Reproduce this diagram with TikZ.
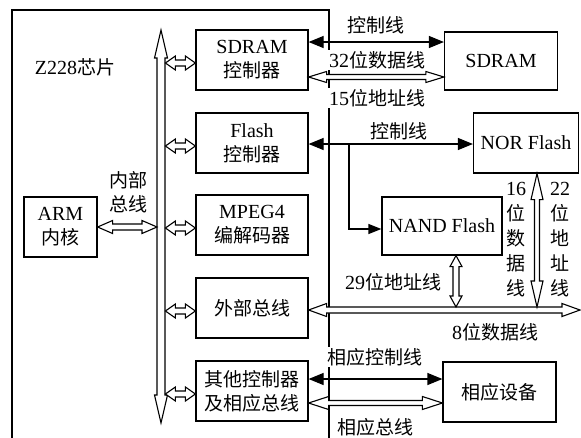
\documentclass[tikz,border=0pt]{standalone}
\usepackage{fontspec}
\setmainfont{Liberation Serif}
\newfontfamily\cjk{Noto Sans CJK SC}[Scale=0.95]
\usetikzlibrary{arrows.meta, calc}

% hollow double arrow: from, to, head length, head half width, shaft half width
\newcommand{\hollowarrow}[5]{%
  \coordinate (ha1) at ($(#1)!#3!(#2)$);
  \coordinate (ha2) at ($(#2)!#3!(#1)$);
  \draw[hollow] (#1) -- ($(ha1)!#4!90:(#1)$) -- ($(ha1)!#5!90:(#1)$)
    -- ($(ha2)!#5!-90:(#2)$) -- ($(ha2)!#4!-90:(#2)$) -- (#2)
    -- ($(ha2)!#4!90:(#2)$) -- ($(ha2)!#5!90:(#2)$)
    -- ($(ha1)!#5!-90:(#1)$) -- ($(ha1)!#4!-90:(#1)$) -- cycle;}

\begin{document}
\begin{tikzpicture}[
        x=1pt, y=-1pt,
        font=\fontsize{20}{24}\selectfont,
        box/.style   ={draw, line width=1.2pt, minimum width=112pt, minimum height=60pt,
                       align=center, inner sep=0pt},
        hollow/.style={draw, fill=white, line width=1.1pt, line join=miter},
        ctrl/.style  ={{Triangle[length=15pt,width=12pt]}-{Triangle[length=15pt,width=12pt]},
                       line width=1.2pt},
        feed/.style  ={-{Triangle[length=13pt,width=10pt]}, line width=1.2pt},
        lbl/.style   ={fill=white, inner sep=1pt},
        vlbl/.style  ={align=center, font=\fontsize{20}{25}\selectfont}
    ]
    \useasboundingbox (0,0) rectangle (581,437);

    % chip outline
    \draw[line width=1.2pt] (12,440) -- (12,10) -- (329,10) -- (329,440);
    \node at (75,67) {Z228{\cjk 芯片}};

    % blocks inside the chip
    \node[box] (sdramctl) at (252,60)  {SDRAM\\{\cjk 控制器}};
    \node[box] (flashctl) at (252,143) {Flash\\{\cjk 控制器}};
    \node[box] (mpeg)     at (252,225) {MPEG4\\{\cjk 编解码器}};
    \node[box] (extbus)   at (252,308) {{\cjk 外部总线}};
    \node[box] (otherctl) at (252,391) {{\cjk 其他控制器}\\{\cjk 及相应总线}};
    \node[box, minimum width=73pt] (arm) at (60.5,227) {ARM\\{\cjk 内核}};

    % external devices
    \node[box, minimum width=113pt, minimum height=58pt] (sdram) at (501,61) {SDRAM};
    \node[box, minimum width=105pt] (norflash) at (526,143) {NOR Flash};
    \node[box, minimum width=120pt, minimum height=58pt] (nandflash) at (442,226) {NAND Flash};
    \node[box, minimum width=113pt] (device) at (499.5,392) {{\cjk 相应设备}};

    % internal bus
    \coordinate (bustop) at (161,30);
    \coordinate (busbot) at (161,423);
    \hollowarrow{bustop}{busbot}{28pt}{6.5pt}{4pt}
    \node[align=center] at (128,192) {{\cjk 内部}\\{\cjk 总线}};
    \coordinate (armbus) at ($(arm.east -| bustop)+(-4,0)$);
    \hollowarrow{arm.east}{armbus}{15pt}{6.5pt}{3pt}
    \foreach \n in {sdramctl,flashctl,mpeg,extbus,otherctl}{
        \coordinate (ba) at ($(\n.west)+(-30,3)$);
        \coordinate (bb) at ($(\n.west)+(0,3)$);
        \hollowarrow{ba}{bb}{10pt}{7pt}{3pt}
    }

    % SDRAM lines
    \draw[ctrl] ([yshift=18pt]sdramctl.east) -- ([yshift=19pt]sdram.west);
    \hollowarrow{[yshift=-17pt]sdramctl.east}{[yshift=-16pt]sdram.west}{18pt}{5.5pt}{2.5pt}
    \node[lbl] at (376,25) {{\cjk 控制线}};
    \node[lbl] at (377,60) {32{\cjk 位数据线}};
    \node[lbl] at (377,98) {15{\cjk 位地址线}};

    % flash lines
    \draw[ctrl] ([yshift=-1pt]flashctl.east) -- ([yshift=-1pt]norflash.west);
    \node[lbl] at (399,131) {{\cjk 控制线}};
    \coordinate (brk) at (349,144);
    \draw[feed] (brk) |- ([yshift=-3pt]nandflash.west);

    % 8 bit data bus
    \coordinate (busend) at (580,310);
    \hollowarrow{[yshift=-2pt]extbus.east}{busend}{18pt}{6.5pt}{3pt}
    \node at (495,332) {8{\cjk 位数据线}};

    \coordinate (nandbus) at (456,307);
    \hollowarrow{nandflash.south -| nandbus}{nandbus}{11pt}{6pt}{3pt}
    \node[lbl] at (393,282) {29{\cjk 位地址线}};

    \coordinate (norbus) at (537,307);
    \hollowarrow{norflash.south -| norbus}{norbus}{26pt}{6pt}{2.5pt}
    \node[vlbl] at (516,240) {16\\{\cjk 位}\\{\cjk 数}\\{\cjk 据}\\{\cjk 线}};
    \node[vlbl] at (560,240) {22\\{\cjk 位}\\{\cjk 地}\\{\cjk 址}\\{\cjk 线}};

    % other devices
    \draw[ctrl] ([yshift=12pt]otherctl.east) -- ([yshift=13pt]device.west);
    \hollowarrow{[yshift=-12pt]otherctl.east}{[yshift=-11pt]device.west}{20pt}{6.5pt}{2.5pt}
    \node[lbl] at (375,357) {{\cjk 相应控制线}};
    \node[lbl] at (375,427) {{\cjk 相应总线}};
\end{tikzpicture}
\end{document}
